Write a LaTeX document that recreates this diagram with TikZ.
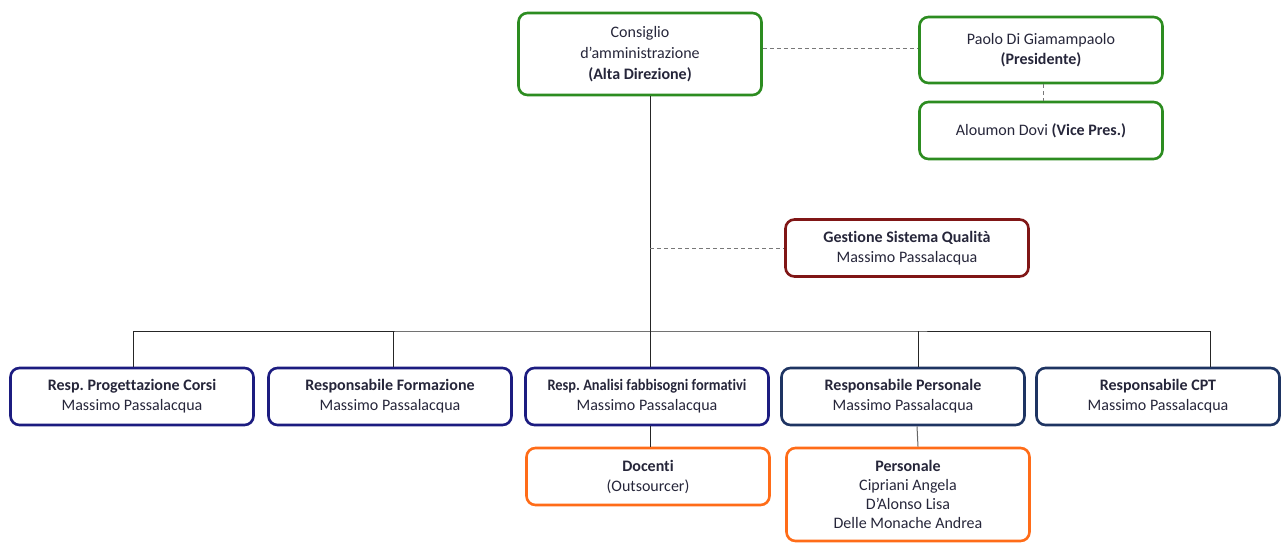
\documentclass[tikz,border=0pt]{standalone}
\usepackage{fontspec}
\setmainfont[Ligatures=NoCommon]{Carlito}
\newfontfamily\condfont[FakeStretch=0.9,Ligatures=NoCommon]{Carlito}
\frenchspacing
\definecolor{boxgreen}{RGB}{44,140,32}
\definecolor{boxred}{RGB}{128,22,22}
\definecolor{boxnavy}{RGB}{28,28,128}
\definecolor{boxdnavy}{RGB}{30,52,98}
\definecolor{boxorange}{RGB}{255,108,24}
\definecolor{txt}{RGB}{38,38,58}
\definecolor{dashgray}{RGB}{120,120,120}
\tikzset{
  orgbox/.style={draw, rounded corners=9pt, line width=2.6pt, minimum width=243pt,
    minimum height=56pt, align=center, inner sep=0pt, text=txt,
    font=\fontsize{16}{20}\selectfont},
  conn/.style={line width=1pt, black!85},
  dconn/.style={line width=1pt, dashgray, dash pattern=on 4pt off 3pt},
}
\begin{document}
\begin{tikzpicture}[x=1pt,y=-1pt]
\useasboundingbox (0,0) rectangle (1282,544);
% top
\node[orgbox, draw=boxgreen, minimum height=82pt] (cda) at (640,54)
  {Consiglio\\[1pt] d’amministrazione\\[1pt] \textbf{(Alta Direzione)}};
\node[orgbox, draw=boxgreen, minimum height=66pt] (pres) at (1041,50)
  {Paolo Di Giamampaolo\\ \textbf{(Presidente)}};
\node[orgbox, draw=boxgreen, minimum height=57pt] (vice) at (1041,130.5)
  {Aloumon Dovi \textbf{(Vice Pres.)}};
\node[orgbox, draw=boxred, minimum height=57pt] (gsq) at (907,248)
  {\textbf{Gestione Sistema Qualità}\\ Massimo Passalacqua};
% bottom row
\node[orgbox, draw=boxnavy, minimum height=57pt] (prog) at (132,396.5)
  {\textbf{Resp. Progettazione Corsi}\\ Massimo Passalacqua};
\node[orgbox, draw=boxnavy, minimum height=57pt] (form) at (390,396.5)
  {\textbf{Responsabile Formazione}\\ Massimo Passalacqua};
\node[orgbox, draw=boxnavy, minimum height=57pt] (anal) at (647,396.5)
  {{\condfont\bfseries Resp. Analisi fabbisogni formativi}\\ Massimo Passalacqua};
\node[orgbox, draw=boxdnavy, minimum height=57pt] (pers) at (903,396.5)
  {\textbf{Responsabile Personale}\\ Massimo Passalacqua};
\node[orgbox, draw=boxdnavy, minimum height=57pt] (cpt) at (1158,396.5)
  {\textbf{Responsabile CPT}\\ Massimo Passalacqua};
% third row
\node[orgbox, draw=boxorange, minimum height=57pt] (doc) at (648,476.5)
  {\textbf{Docenti}\\ (Outsourcer)};
\node[orgbox, draw=boxorange, minimum height=93pt] (staff) at (908,494.5)
  {\textbf{Personale}\\[-1pt] Cipriani Angela\\[-1pt] D’Alonso Lisa\\[-1pt] Delle Monache Andrea};
% connectors
\coordinate (bus) at (650,331);
\coordinate (gsqj) at (650,248);
\draw[conn] (cda.south -| bus) -- (anal.north -| bus);
\draw[conn] (prog.north -| 133,0) |- (bus) -| (cpt.north -| 1210,0);
\draw[conn] (bus -| 393,0) -- (form.north -| 393,0);
\draw[conn] (bus -| 918,0) -- (pers.north -| 918,0);
\draw[conn] (anal.south -| bus) -- (doc.north -| bus);
\draw[conn, black!60] (pers.south -| 917,0) -- (staff.north -| 918,0);
\draw[dconn] (gsqj) -- (gsq.west);
\draw[dconn] (cda.east |- 0,48) -- (pres.west |- 0,48);
\draw[dconn] (pres.south -| 1043,0) -- (vice.north -| 1043,0);
\end{tikzpicture}
\end{document}
